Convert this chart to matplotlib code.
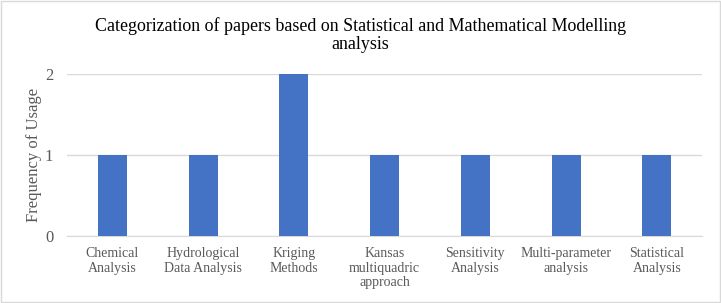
import matplotlib.pyplot as plt
from matplotlib.patches import Rectangle

categories = ["Chemical\nAnalysis", "Hydrological\nData Analysis", "Kriging\nMethods",
              "Kansas\nmultiquadric\napproach", "Sensitivity\nAnalysis",
              "Multi-parameter\nanalysis", "Statistical\nAnalysis"]
counts = [1, 1, 2, 1, 1, 1, 1]

plt.rcParams['font.family'] = 'Liberation Serif'
serif = 'Liberation Serif'

fig = plt.figure(figsize=(7.21, 3.03), dpi=100)
ax = fig.add_axes([0.093, 0.221, 0.881, 0.534])

x = range(len(categories))
ax.bar(x, counts, width=0.32, color="#4472C4", zorder=3)

ax.set_xlim(-0.5, len(categories) - 0.5)
ax.set_ylim(0, 2)
ax.set_yticks([0, 1, 2])
ax.set_yticklabels(["0", "1", "2"], fontfamily=serif, fontsize=12, color="#595959")
ax.set_xticks(list(x))
ax.set_xticklabels(categories, fontfamily=serif, fontsize=10, color="#595959", linespacing=1.15)
ax.tick_params(axis="y", length=0, pad=10)
ax.tick_params(axis="x", length=0, pad=8)
ax.grid(axis="y", color="#D9D9D9", linewidth=1, zorder=0)
for side in ["top", "right", "left"]:
    ax.spines[side].set_visible(False)
ax.spines["bottom"].set_color("#D9D9D9")
ax.set_ylabel("Frequency of Usage", fontfamily=serif, fontsize=12, color="#595959", labelpad=2)

fig.text(0.5, 0.885, "Categorization of papers based on Statistical and Mathematical Modelling\nanalysis",
         ha="center", va="center", fontfamily=serif, fontsize=12.9, color="black", linespacing=1.12)

fig.patches.append(Rectangle((0.002, 0.003), 0.996, 0.994, transform=fig.transFigure,
                             fill=False, edgecolor="#D9D9D9", linewidth=1))

fig.savefig("out.png", dpi=100)
